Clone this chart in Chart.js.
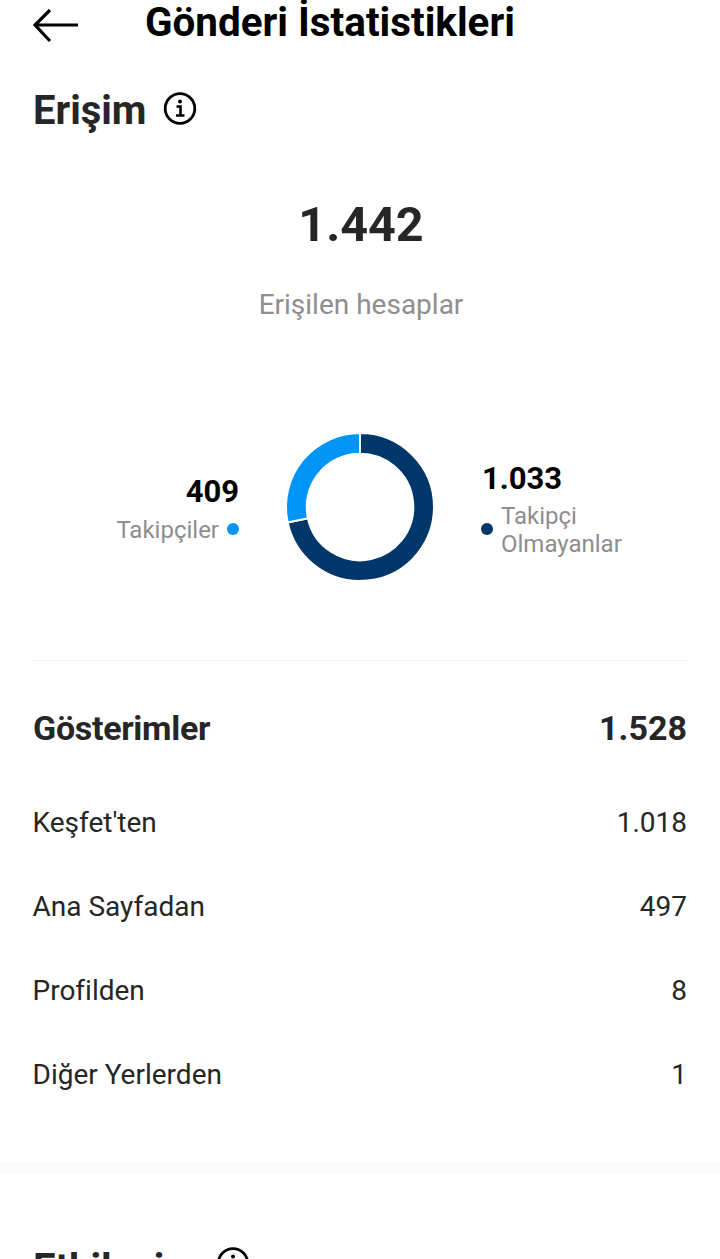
<!DOCTYPE html>
<html lang="tr">
<head>
<meta charset="utf-8">
<title>Gönderi İstatistikleri</title>
<script src="https://cdn.jsdelivr.net/npm/chart.js@4"></script>
<style>
    html, body { margin: 0; padding: 0; background: #fff; }
    body { position: relative; width: 720px; height: 1259px; overflow: hidden; font-family: Roboto, sans-serif; color: #262626; }
    .t { position: absolute; white-space: nowrap; line-height: 1; }
    .right { text-align: right; }
    .center { left: 0; text-align: center; }
    .grey { color: #8e8e8e; }
    .dot { position: absolute; width: 12px; height: 12px; border-radius: 50%; }
    .rule { position: absolute; left: 33px; width: 655px; height: 1px; background: #f4f4f4; }
    #band { position: absolute; left: 0; top: 1162px; width: 720px; height: 12px; background: #fafafa; }
    #chartBox { position: absolute; left: 280px; top: 427px; width: 160px; height: 160px; }
    svg { position: absolute; }
</style>
</head>
<body>
    <svg style="left:30px;top:8px" width="52" height="36" viewBox="0 0 52 36" fill="none" stroke="#000" stroke-width="3.2">
        <path d="M48 17H6M20 2L5 17L20 33"/>
    </svg>
    <div class="t" id="title" style="left:145px;top:3px;font-size:40.4px;font-weight:700;color:#000">Gönderi İstatistikleri</div>

    <div class="t" style="left:33px;top:91px;font-size:40px;font-weight:700">Erişim</div>
    <svg style="left:163px;top:92px" width="34" height="34" viewBox="0 0 34 34" fill="none" stroke="#000">
        <circle cx="17" cy="16.5" r="14.8" stroke-width="2.8"/>
        <circle cx="17" cy="9.5" r="2" fill="#000" stroke="none"/>
        <path d="M13.5 14.5H17.5V23M13 23.5H21.5" stroke-width="2.6"/>
    </svg>

    <div class="t center" id="total" style="width:722px;top:201px;font-size:48.5px;font-weight:700"></div>
    <div class="t center grey" style="width:722px;top:291px;font-size:28px">Erişilen hesaplar</div>

    <div class="t right" id="followerValue" style="right:481px;top:476px;font-size:31px;font-weight:700;color:#000"></div>
    <div class="t right grey" id="followerLabel" style="right:501px;top:518px;font-size:24px"></div>
    <div class="dot" style="left:227px;top:523px;background:#0095f6"></div>

    <div id="chartBox"><canvas id="reachChart"></canvas></div>

    <div class="t" id="otherValue" style="left:482px;top:463px;font-size:31px;font-weight:700;color:#000"></div>
    <div class="dot" style="left:481px;top:523px;background:#00376b"></div>
    <div class="t grey" id="otherLabel1" style="left:501px;top:504px;font-size:24px"></div>
    <div class="t grey" id="otherLabel2" style="left:501px;top:532px;font-size:24px"></div>

    <div class="rule" style="top:660px"></div>

    <div class="t" id="impTitle" style="left:33px;top:711px;font-size:34px;font-weight:700;letter-spacing:-0.3px"></div>
    <div class="t right" id="impTotal" style="right:33px;top:711px;font-size:34px;font-weight:700"></div>
    <div id="rows"></div>

    <div id="band"></div>
    <div class="t" style="left:33px;top:1249px;font-size:40px;font-weight:700">Etkileşim</div>
    <svg style="left:216px;top:1247px" width="34" height="34" viewBox="0 0 34 34" fill="none" stroke="#000">
        <circle cx="17" cy="16.5" r="14.8" stroke-width="2.8"/>
        <circle cx="17" cy="9.5" r="2" fill="#000" stroke="none"/>
    </svg>

<script>
// Reach data
const reachLabels = ['Takipçi Olmayanlar', 'Takipçiler'];
const reachValues = [1033, 409];
const reachColors = ['#00376b', '#0095f6'];
const reachTotal = 1442;

// Impressions data
const impressionTotal = 1528;
const impressionLabels = ["Keşfet'ten", 'Ana Sayfadan', 'Profilden', 'Diğer Yerlerden'];
const impressionValues = [1018, 497, 8, 1];

// Numbers use a dot as thousands separator
function formatNumber(value) {
    return new Intl.NumberFormat('de-DE').format(value);
}

function setText(id, text) {
    document.getElementById(id).textContent = text;
}

function fillTexts() {
    setText('total', formatNumber(reachTotal));
    setText('followerValue', formatNumber(reachValues[1]));
    setText('followerLabel', reachLabels[1]);
    setText('otherValue', formatNumber(reachValues[0]));
    const otherWords = reachLabels[0].split(' ');
    setText('otherLabel1', otherWords[0]);
    setText('otherLabel2', otherWords[1]);
    setText('impTitle', 'Gösterimler');
    setText('impTotal', formatNumber(impressionTotal));

    const rows = document.getElementById('rows');
    impressionLabels.forEach((label, i) => {
        const top = 809 + i * 84;
        const left = document.createElement('div');
        left.className = 't';
        left.style.cssText = `left:32.5px;top:${top}px;font-size:28px;color:#262626`;
        left.textContent = label;
        const right = document.createElement('div');
        right.className = 't right';
        right.style.cssText = `right:33px;top:${top}px;font-size:28px;color:#262626`;
        right.textContent = formatNumber(impressionValues[i]);
        rows.appendChild(left);
        rows.appendChild(right);
    });
}

function createReachChart() {
    new Chart(document.getElementById('reachChart'), {
        type: 'doughnut',
        data: {
            labels: reachLabels,
            datasets: [{
                data: reachValues,
                backgroundColor: reachColors,
                borderColor: '#fff',
                borderWidth: 2
            }]
        },
        options: {
            responsive: true,
            maintainAspectRatio: false,
            animation: false,
            cutout: '72%',
            layout: { padding: 5 },
            plugins: {
                legend: { display: false },
                tooltip: { enabled: false }
            }
        }
    });
}

fillTexts();
createReachChart();
</script>
</body>
</html>
